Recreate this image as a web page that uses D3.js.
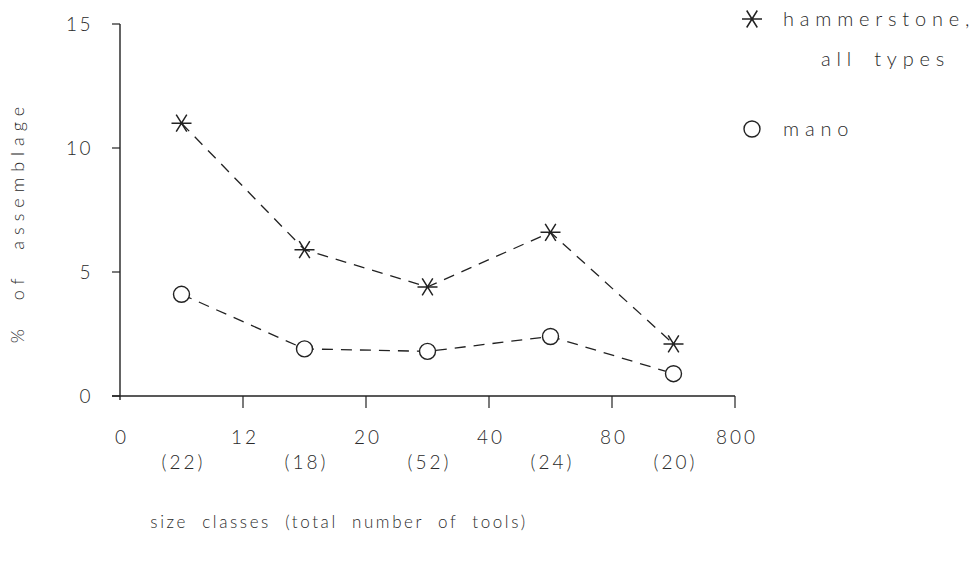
<!DOCTYPE html>
<html><head><meta charset="utf-8">
<script src="https://cdn.jsdelivr.net/npm/d3@7"></script>
<style>
body{margin:0;background:#fff;}
text{font-family:"Lato","DejaVu Sans",sans-serif;fill:#2a2a2a;font-weight:300;}
</style></head>
<body><svg id="c" width="979" height="565"></svg>
<script>
const boundaries = ["0","12","20","40","80","800"];
const counts = ["(22)","(18)","(52)","(24)","(20)"];
const hammerstone = [11.0, 5.9, 4.4, 6.6, 2.1];
const mano = [4.1, 1.9, 1.8, 2.4, 0.9];
const yTicks = [0, 5, 10, 15];

const svg = d3.select("#c");
const x = d3.scaleLinear().domain([0, boundaries.length - 1]).range([120, 735]);
const y = d3.scaleLinear().domain([0, 15]).range([396, 24]);
const ink = "#222";

// y axis
svg.append("line").attr("x1",x(0)).attr("x2",x(0)).attr("y1",y(15)).attr("y2",y(0)+4)
  .attr("stroke",ink).attr("stroke-width",1.4);
yTicks.forEach(t=>{
  svg.append("line").attr("x1",x(0)-8).attr("x2",x(0)).attr("y1",y(t)).attr("y2",y(t))
    .attr("stroke",ink).attr("stroke-width",1.2);
  svg.append("text").attr("x",93).attr("y",y(t)+7).attr("text-anchor","end")
    .attr("font-size",19).attr("letter-spacing",2.5).text(t);
});
// x axis
svg.append("line").attr("x1",x(0)-8).attr("x2",x(5)).attr("y1",y(0)).attr("y2",y(0))
  .attr("stroke",ink).attr("stroke-width",1.4);
boundaries.forEach((b,i)=>{
  if(i>0) svg.append("line").attr("x1",x(i)).attr("x2",x(i)).attr("y1",y(0)).attr("y2",y(0)+12)
    .attr("stroke",ink).attr("stroke-width",1.2);
  svg.append("text").attr("x",x(i)+2).attr("y",444).attr("text-anchor","middle")
    .attr("font-size",19).attr("letter-spacing",3).text(b);
});
counts.forEach((c,i)=>{
  svg.append("text").attr("x",x(i+0.5)+2).attr("y",469).attr("text-anchor","middle")
    .attr("font-size",19).attr("letter-spacing",3).text(c);
});
// titles
svg.append("text").attr("transform","translate(24,222) rotate(-90)").attr("text-anchor","middle")
  .attr("font-size",18).attr("letter-spacing",6).attr("word-spacing",12).text("% of assemblage");
svg.append("text").attr("x",339).attr("y",528).attr("text-anchor","middle")
  .attr("font-size",17).attr("letter-spacing",2.6).attr("word-spacing",7)
  .text("size classes (total number of tools)");

// lines
const line = d3.line().x((d,i)=>x(i+0.5)).y(d=>y(d));
[hammerstone, mano].forEach(s=>{
  svg.append("path").attr("d",line(s)).attr("fill","none").attr("stroke",ink)
    .attr("stroke-width",1.3).attr("stroke-dasharray","11,8");
});
function star(g,cx,cy,r){
  const a = 58*Math.PI/180;
  const p = `M${cx-r},${cy}L${cx+r},${cy}M${cx-r*Math.cos(a)},${cy-r*Math.sin(a)}L${cx+r*Math.cos(a)},${cy+r*Math.sin(a)}M${cx+r*Math.cos(a)},${cy-r*Math.sin(a)}L${cx-r*Math.cos(a)},${cy+r*Math.sin(a)}`;
  g.append("path").attr("d",p).attr("stroke",ink).attr("stroke-width",1.5).attr("fill","none");
}
function circ(g,cx,cy,r){
  g.append("circle").attr("cx",cx).attr("cy",cy).attr("r",r).attr("fill","#fff")
    .attr("stroke",ink).attr("stroke-width",1.4);
}
hammerstone.forEach((v,i)=>star(svg,x(i+0.5),y(v),10));
mano.forEach((v,i)=>circ(svg,x(i+0.5),y(v),8));

// legend
star(svg,752,19,10);
circ(svg,752,129,8);
svg.append("text").attr("x",783).attr("y",26).attr("font-size",20).attr("letter-spacing",5.8).text("hammerstone,");
svg.append("text").attr("x",821).attr("y",66).attr("font-size",20).attr("letter-spacing",5.8).attr("word-spacing",6).text("all types");
svg.append("text").attr("x",783).attr("y",136).attr("font-size",20).attr("letter-spacing",5.8).text("mano");
</script></body></html>
